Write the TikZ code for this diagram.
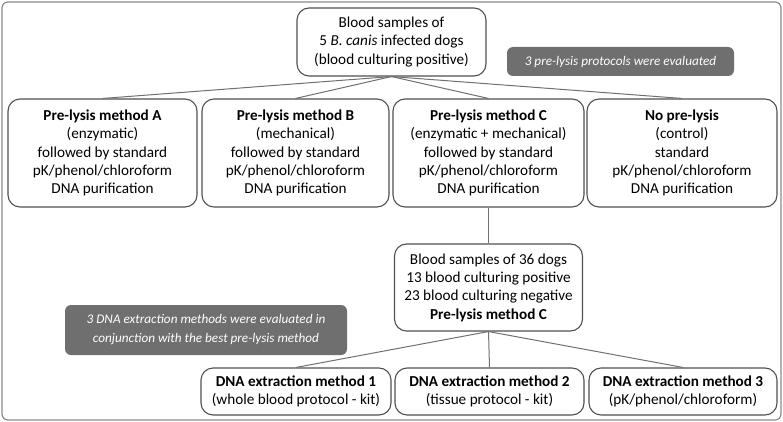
\documentclass[tikz,border=0pt]{standalone}
\usepackage{fontspec}
\setmainfont{Carlito}
\definecolor{boxc}{HTML}{505050}
\definecolor{linec}{HTML}{707070}
\definecolor{notec}{HTML}{6F6F6F}
\definecolor{framec}{HTML}{8A8A8A}
\begin{document}
\begin{tikzpicture}[x=1pt,y=-1pt,
  box/.style={draw=boxc, line width=1.1pt, rounded corners=12pt, fill=white, align=center, inner sep=0pt, font=\fontsize{15.2}{18.3}\selectfont},
  note/.style={fill=notec, rounded corners=6pt, align=center, text=white, inner sep=0pt, font=\fontsize{13.2}{19}\selectfont\itshape},
  link/.style={draw=linec, line width=1pt}]
\useasboundingbox (0,0) rectangle (783,422);
\draw[framec, line width=1.2pt, rounded corners=6pt] (2,2) rectangle (781,420);

\node[box, minimum width=189pt, minimum height=68pt] (top) at (391.5,42) {Blood samples of\\5 \textit{B. canis} infected dogs\\(blood culturing positive)};
\node[note, minimum width=227pt, minimum height=29pt] (n1) at (620.5,61.5) {3 pre-lysis protocols were evaluated};

\node[box, minimum width=189pt, minimum height=108pt] (A) at (102.5,153) {\textbf{Pre-lysis method A}\\(enzymatic)\\followed by standard\\pK/phenol/chloroform\\DNA purification};
\node[box, minimum width=187pt, minimum height=108pt] (B) at (295.5,153) {\textbf{Pre-lysis method B}\\(mechanical)\\followed by standard\\pK/phenol/chloroform\\DNA purification};
\node[box, minimum width=191pt, minimum height=108pt] (C) at (488.5,153) {\textbf{Pre-lysis method C}\\(enzymatic + mechanical)\\followed by standard\\pK/phenol/chloroform\\DNA purification};
\node[box, minimum width=190pt, minimum height=108pt] (D) at (682,153) {\textbf{No pre-lysis}\\(control)\\standard\\pK/phenol/chloroform\\DNA purification};

\node[box, minimum width=188pt, minimum height=87pt] (mid) at (488.5,287.5) {Blood samples of 36 dogs\\13 blood culturing positive\\23 blood culturing negative\\\textbf{Pre-lysis method C}};
\node[note, minimum width=282pt, minimum height=50pt] (n2) at (206,330) {3 DNA extraction methods were evaluated in\\conjunction with the best pre-lysis method};

\node[box, minimum width=190pt, minimum height=47pt] (E1) at (296,391.5) {\textbf{DNA extraction method 1}\\(whole blood protocol - kit)};
\node[box, minimum width=189pt, minimum height=47pt] (E2) at (489.5,391.5) {\textbf{DNA extraction method 2}\\(tissue protocol - kit)};
\node[box, minimum width=188pt, minimum height=47pt] (E3) at (683,391.5) {\textbf{DNA extraction method 3}\\(pK/phenol/chloroform)};

\foreach \t in {A,B,C,D} \draw[link] (top.south) -- (\t.north);
\draw[link] (C.south) -- (mid.north);
\foreach \t in {E1,E2,E3} \draw[link] (mid.south) -- (\t.north);
\end{tikzpicture}
\end{document}
